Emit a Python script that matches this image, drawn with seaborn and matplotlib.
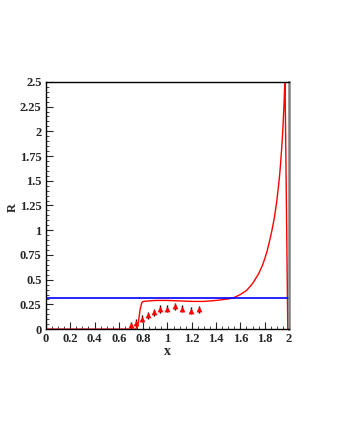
import numpy as np
import pandas as pd
import seaborn as sns
import matplotlib.pyplot as plt
from matplotlib.ticker import MultipleLocator, FuncFormatter

# red model curve
curve_x = [0.0, 0.74, 0.76, 0.775, 0.79, 0.80, 0.90, 1.00, 1.10, 1.20, 1.30, 1.40,
           1.50, 1.55, 1.60, 1.65, 1.70, 1.75, 1.78, 1.80, 1.82, 1.84, 1.86,
           1.88, 1.90, 1.92, 1.93, 1.94, 1.95, 1.96, 1.967, 1.99, 2.0]
curve_y = [0.0, 0.0, 0.06, 0.20, 0.27, 0.28, 0.29, 0.29, 0.285, 0.28, 0.28, 0.29,
           0.305, 0.32, 0.35, 0.39, 0.46, 0.56, 0.64, 0.71, 0.79, 0.89, 1.0,
           1.13, 1.3, 1.52, 1.66, 1.83, 2.03, 2.3, 2.55, 0.0, 0.0]

# blue reference level
level_x = [0.0, 2.0]
level_y = [0.31, 0.31]

# data points with error bars
pts_x = [0.70, 0.745, 0.79, 0.84, 0.89, 0.94, 1.0, 1.06, 1.12, 1.19, 1.26]
pts_y = [0.04, 0.065, 0.105, 0.14, 0.17, 0.205, 0.205, 0.23, 0.205, 0.185, 0.2]
pts_err = [0.035, 0.035, 0.035, 0.035, 0.035, 0.04, 0.035, 0.035, 0.035, 0.035, 0.035]

sns.set_style("ticks")
plt.rcParams['font.family'] = ['Liberation Serif', 'DejaVu Serif']
plt.rcParams['font.weight'] = 'bold'

fig = plt.figure(figsize=(3.4, 4.4), dpi=100)
ax = fig.add_axes([0.135, 0.252, 0.715, 0.562])

curve = pd.DataFrame({'x': curve_x, 'y': curve_y})
sns.lineplot(data=curve, x='x', y='y', sort=False, color='red', lw=1.0, ax=ax)
sns.lineplot(x=level_x, y=level_y, color='blue', lw=1.2, ax=ax)

ax.errorbar(pts_x, pts_y, yerr=pts_err, fmt='none', ecolor='black', elinewidth=1.0)
sns.scatterplot(x=pts_x, y=pts_y, marker='^', color='red', s=14, edgecolor='red', ax=ax, zorder=3)

ax.set_xlim(0, 2)
ax.set_ylim(0, 2.5)
ax.xaxis.set_major_locator(MultipleLocator(0.2))
ax.xaxis.set_minor_locator(MultipleLocator(0.05))
ax.yaxis.set_major_locator(MultipleLocator(0.25))
ax.yaxis.set_minor_locator(MultipleLocator(0.05))
fmt = FuncFormatter(lambda v, p: ('%.2f' % v).rstrip('0').rstrip('.'))
ax.xaxis.set_major_formatter(fmt)
ax.yaxis.set_major_formatter(fmt)
ax.tick_params(which='both', direction='in', top=False, right=False, labelsize=9, pad=3)
ax.tick_params(which='major', length=5, width=0.8)
ax.tick_params(which='minor', length=2.5, width=0.6)
for lab in ax.get_xticklabels() + ax.get_yticklabels():
    lab.set_fontweight('bold')

for s in ['left', 'bottom', 'top']:
    ax.spines[s].set_color('black')
    ax.spines[s].set_linewidth(1.0)
ax.spines['right'].set_color('grey')
ax.spines['right'].set_linewidth(1.8)

ax.set_xlabel('x', fontsize=10, fontweight='bold', labelpad=0)
ax.set_ylabel('R', fontsize=9, fontweight='bold')
ax.yaxis.set_label_coords(-0.11, 0.49)

plt.savefig('out.png', dpi=100)
